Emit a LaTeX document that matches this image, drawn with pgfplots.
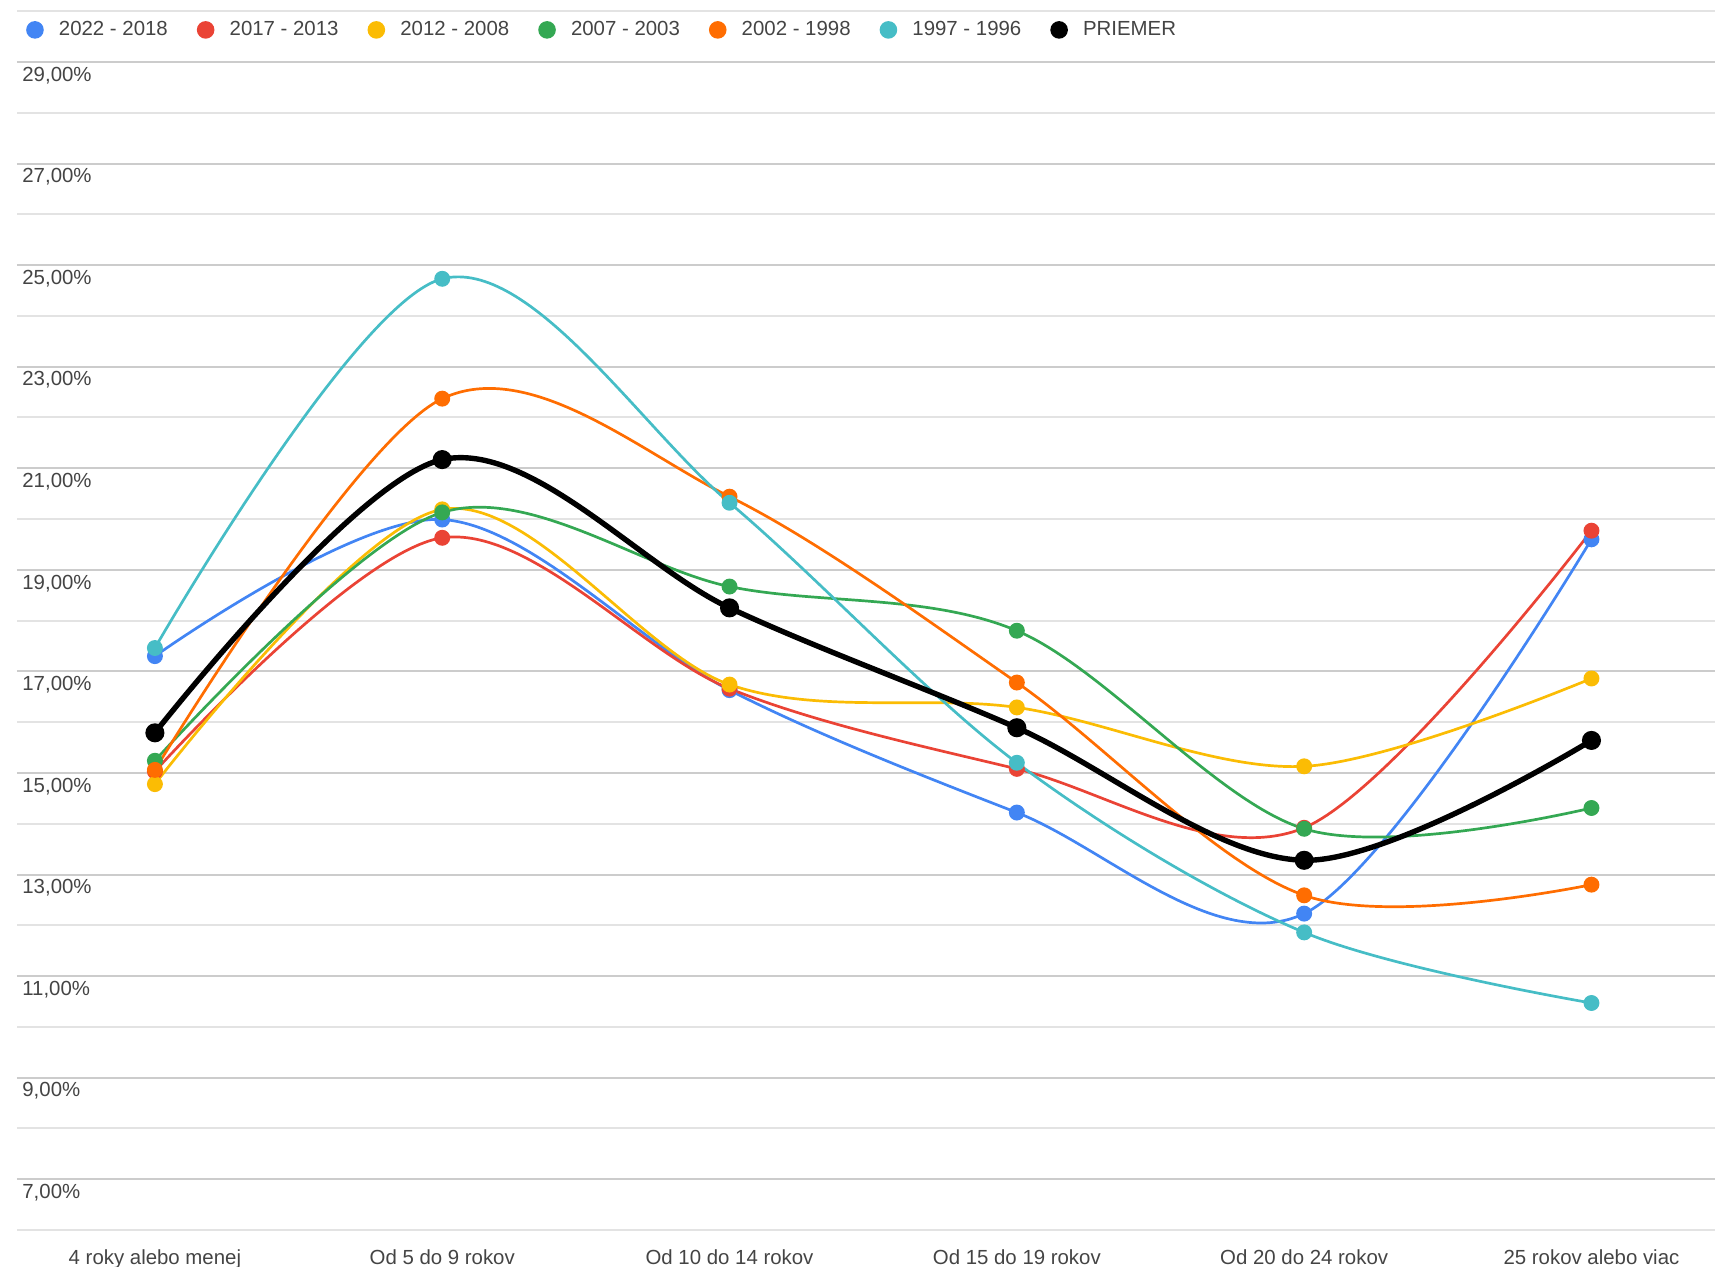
\documentclass[border=0pt]{standalone}
\usepackage{pgfplots}
\pgfplotsset{compat=1.18}
\usepackage{fontspec}
\setmainfont{Liberation Sans}
\definecolor{gblue}{HTML}{4285F4}
\definecolor{gred}{HTML}{EA4335}
\definecolor{gyellow}{HTML}{FBBC04}
\definecolor{ggreen}{HTML}{34A853}
\definecolor{gorange}{HTML}{FF6D01}
\definecolor{gcyan}{HTML}{46BDC6}
\definecolor{txt}{HTML}{444444}
\begin{document}
\begin{tikzpicture}
\useasboundingbox (0,0) rectangle (857.5pt,633pt);
\begin{axis}[
  at={(8.5pt,18pt)}, anchor=south west,
  scale only axis, width=849pt, height=615pt,
  xmin=-0.48, xmax=5.43, ymin=6, ymax=30.22,
  axis line style={draw=none}, tick style={draw=none},
  xtick={0,...,5},
  xticklabels={4 roky alebo menej, Od 5 do 9 rokov, Od 10 do 14 rokov, Od 15 do 19 rokov, Od 20 do 24 rokov, 25 rokov alebo viac},
  ytick={7,9,...,29}, minor ytick={6,8,...,30},
  ymajorgrids, yminorgrids,
  major grid style={draw=black!20, line width=1pt},
  minor grid style={draw=black!11, line width=1pt},
  /pgf/number format/assume math mode=true,
  yticklabel={\pgfmathprintnumber[fixed, fixed zerofill, precision=2, use comma]{\tick}\%},
  ticklabel style={font=\fontsize{10.2}{12}\selectfont, text=txt},
  yticklabel style={anchor=north west, inner sep=0pt, xshift=2.5pt, yshift=-2.3pt},
  xticklabel style={anchor=base, inner sep=0pt, yshift=-17pt},
  every axis plot/.append style={smooth, tension=0.55, line width=1.35pt, mark=*, mark size=3.3pt},
  legend columns=7,
  legend style={draw=none, fill=none, inner sep=0pt, outer sep=0pt, anchor=west,
    at={(axis description cs:0.0054,0.9757)},
    font=\fontsize{10.2}{12}\selectfont, text=txt,
    nodes={inner sep=3pt},
    /tikz/every odd column/.append style={column sep=4.6pt},
    /tikz/every even column/.append style={column sep=11.5pt}},
  legend image code/.code={\path[draw=none, fill, line width=0pt] (0pt,0pt) circle (4.4pt);},
]
\addplot[color=gblue] coordinates {(0,17.30) (1,19.99) (2,16.63) (3,14.22) (4,12.23) (5,19.60)};
\addlegendentry{2022 - 2018}
\addplot[color=gred] coordinates {(0,15.03) (1,19.63) (2,16.66) (3,15.08) (4,13.92) (5,19.77)};
\addlegendentry{2017 - 2013}
\addplot[color=gyellow] coordinates {(0,14.78) (1,20.19) (2,16.74) (3,16.29) (4,15.13) (5,16.86)};
\addlegendentry{2012 - 2008}
\addplot[color=ggreen] coordinates {(0,15.24) (1,20.13) (2,18.67) (3,17.80) (4,13.90) (5,14.31)};
\addlegendentry{2007 - 2003}
\addplot[color=gorange] coordinates {(0,15.06) (1,22.37) (2,20.44) (3,16.78) (4,12.59) (5,12.80)};
\addlegendentry{2002 - 1998}
\addplot[color=gcyan] coordinates {(0,17.46) (1,24.73) (2,20.32) (3,15.20) (4,11.86) (5,10.47)};
\addlegendentry{1997 - 1996}
\addplot[color=black, line width=2.7pt, mark size=3.4pt] coordinates {(0,15.79) (1,21.17) (2,18.25) (3,15.89) (4,13.28) (5,15.64)};
\addlegendentry{PRIEMER}
\end{axis}
\end{tikzpicture}
\end{document}
